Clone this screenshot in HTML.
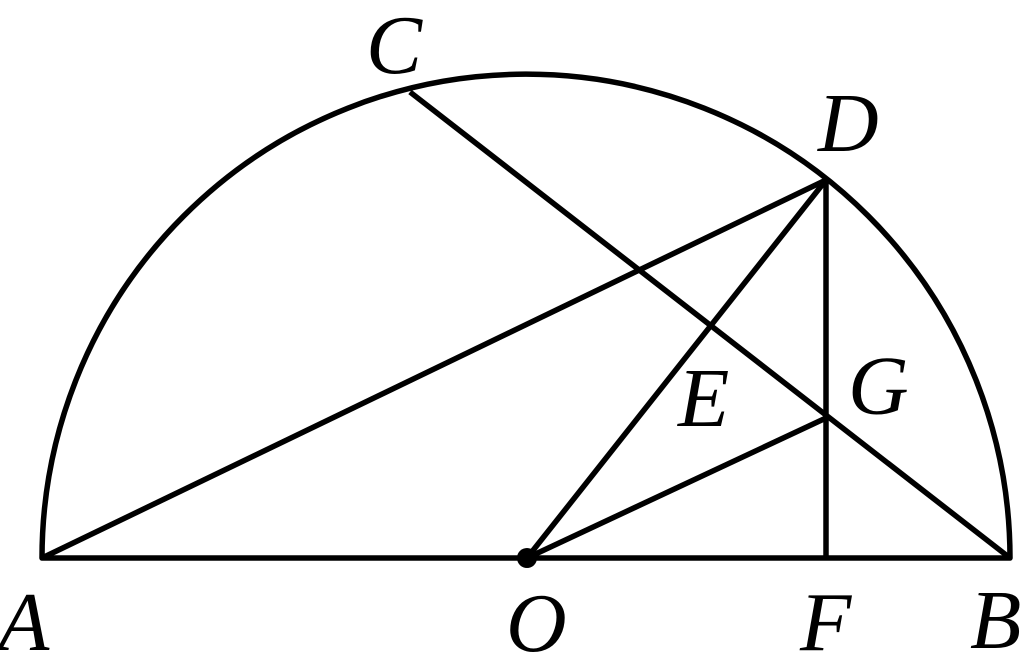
<!DOCTYPE html>
<html><head><meta charset="utf-8"><style>
html,body{margin:0;padding:0;background:#fff;}
svg{display:block}
text{font-family:"Liberation Serif",serif;font-style:italic;font-size:84px;fill:#000}
</style></head><body>
<svg width="1035" height="666" viewBox="0 0 1035 666">
<g stroke="#000" stroke-width="5.5" fill="none" stroke-linejoin="round">
<path d="M42,558 A484,484 0 0 1 1010,558 Z"/>
<line x1="410" y1="92" x2="1010" y2="558"/>
<line x1="42" y1="558" x2="826" y2="180"/>
<line x1="527" y1="558" x2="826" y2="180"/>
<line x1="826" y1="180" x2="826" y2="558"/>
<line x1="527" y1="558" x2="826" y2="418"/>
</g>
<circle cx="527" cy="558" r="10" fill="#000"/>
<text x="-2" y="650">A</text>
<text x="366" y="73">C</text>
<text x="818" y="151">D</text>
<text x="678" y="426">E</text>
<text x="848" y="414">G</text>
<text x="506" y="651">O</text>
<text x="800" y="650">F</text>
<text x="970" y="648">B</text>
</svg>
</body></html>
